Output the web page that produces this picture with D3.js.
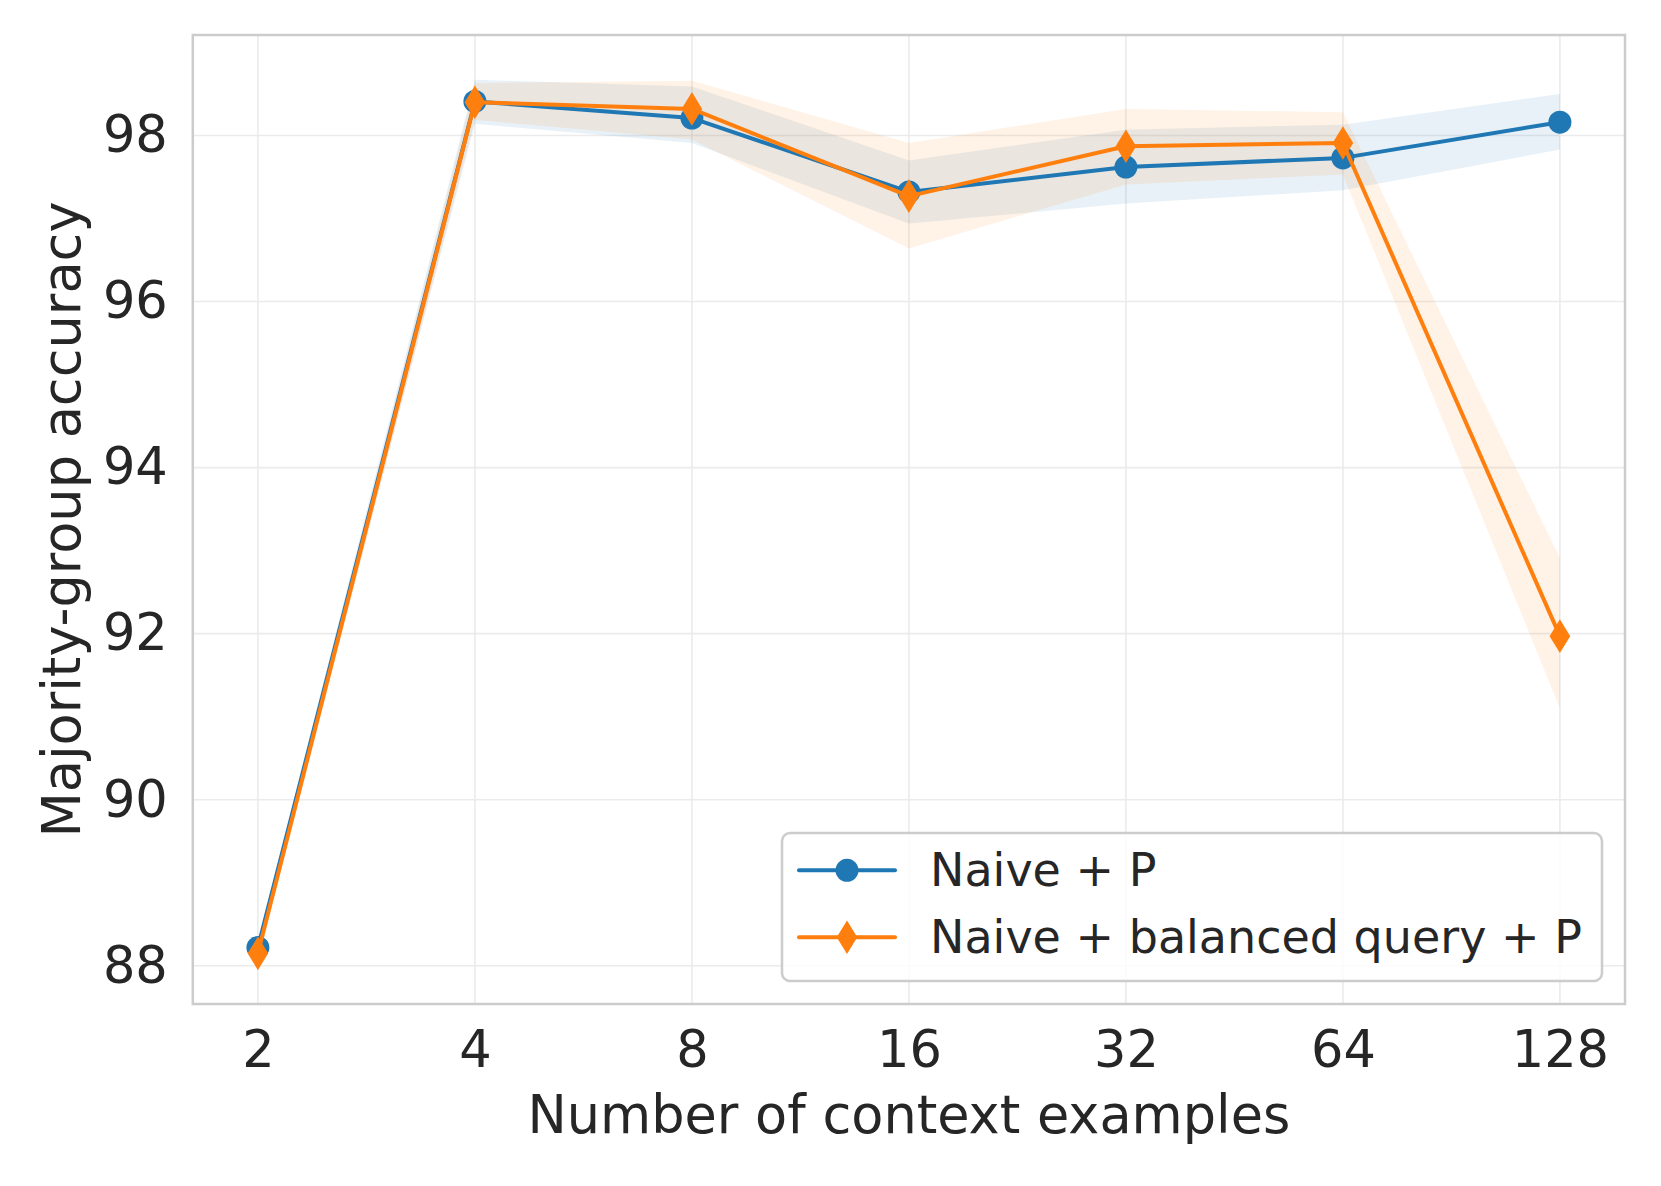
<!DOCTYPE html>
<html><head><meta charset="utf-8">
<script src="https://cdn.jsdelivr.net/npm/d3@7"></script>
<style>body{margin:0;background:#fff;} svg{display:block;}</style>
</head><body>
<svg id="chart" width="1661" height="1186"></svg>
<script>
const xValues = [2, 4, 8, 16, 32, 64, 128];
const xTickLabels = ["2", "4", "8", "16", "32", "64", "128"];
const yTicks = [88, 90, 92, 94, 96, 98];
const seriesNames = ["Naive + P", "Naive + balanced query + P"];
const naiveMean = [88.22, 98.41, 98.21, 97.32, 97.62, 97.73, 98.16];
const naiveLow  = [88.16, 98.14, 97.91, 96.94, 97.18, 97.34, 97.83];
const naiveHigh = [88.28, 98.67, 98.59, 97.70, 98.07, 98.13, 98.50];
const balMean = [88.15, 98.40, 98.32, 97.27, 97.87, 97.91, 91.97];
const balLow  = [88.09, 98.19, 97.95, 96.64, 97.41, 97.53, 91.10];
const balHigh = [88.21, 98.63, 98.66, 97.91, 98.32, 98.28, 92.91];
const colors = ["#1f77b4", "#ff7f0e"];

const svg = d3.select("#chart");
const L = 192.8, R = 1625, T = 35, B = 1004;
const x = d3.scaleLog().base(2).domain([Math.pow(2, 0.7), Math.pow(2, 7.3)]).range([L, R]);
const y = d3.scaleLinear().domain([87.54, 99.21]).range([B, T]);
const textColor = "#262626";
const font = "DejaVu Sans, sans-serif";
const lw = 4;

// grid
const g = svg.append("g");
g.selectAll("line.vx").data(xValues).enter().append("line")
  .attr("x1", d => x(d)).attr("x2", d => x(d)).attr("y1", T).attr("y2", B)
  .attr("stroke", "#ebebeb").attr("stroke-width", 1.6);
g.selectAll("line.hy").data(yTicks).enter().append("line")
  .attr("y1", d => y(d)).attr("y2", d => y(d)).attr("x1", L).attr("x2", R)
  .attr("stroke", "#ebebeb").attr("stroke-width", 1.6);

// axes (tick labels only)
const xAxis = d3.axisBottom(x).tickValues(xValues).tickFormat((d, i) => xTickLabels[i]).tickSize(0).tickPadding(27);
const xa = svg.append("g").attr("transform", `translate(0,${B})`).call(xAxis);
xa.select(".domain").remove();
xa.selectAll("text").attr("font-family", font).attr("font-size", 51).attr("fill", textColor);

const yAxis = d3.axisLeft(y).tickValues(yTicks).tickFormat(d3.format("d")).tickSize(0).tickPadding(25);
const ya = svg.append("g").attr("transform", `translate(${L},0)`).call(yAxis);
ya.select(".domain").remove();
ya.selectAll("text").attr("font-family", font).attr("font-size", 51).attr("fill", textColor);

// bands
const area = (lo, hi) => d3.area().x((d, i) => x(xValues[i])).y0((d, i) => y(lo[i])).y1((d, i) => y(hi[i]));
svg.append("path").attr("d", area(naiveLow, naiveHigh)(xValues))
  .attr("fill", colors[0]).attr("fill-opacity", 0.1);
svg.append("path").attr("d", area(balLow, balHigh)(xValues))
  .attr("fill", colors[1]).attr("fill-opacity", 0.1);

// lines and markers
const line = d3.line().x((d, i) => x(xValues[i])).y(d => y(d));
const diamond = (cx, cy) => {
  const h = 16.8, w = 10.3;
  return `M${cx},${cy - h}L${cx + w},${cy}L${cx},${cy + h}L${cx - w},${cy}Z`;
};
svg.append("path").attr("d", line(naiveMean)).attr("fill", "none")
  .attr("stroke", colors[0]).attr("stroke-width", lw).attr("stroke-linejoin", "round");
svg.selectAll("circle.m").data(naiveMean).enter().append("circle")
  .attr("cx", (d, i) => x(xValues[i])).attr("cy", d => y(d)).attr("r", 11.5).attr("fill", colors[0]);
svg.append("path").attr("d", line(balMean)).attr("fill", "none")
  .attr("stroke", colors[1]).attr("stroke-width", lw).attr("stroke-linejoin", "round");
svg.selectAll("path.dm").data(balMean).enter().append("path")
  .attr("d", (d, i) => diamond(x(xValues[i]), y(d))).attr("fill", colors[1]);

// frame
svg.append("rect").attr("x", L).attr("y", T).attr("width", R - L).attr("height", B - T)
  .attr("fill", "none").attr("stroke", "#cccccc").attr("stroke-width", 2.5);

// axis titles
svg.append("text").attr("x", (L + R) / 2).attr("y", 1133).attr("text-anchor", "middle")
  .attr("font-family", font).attr("font-size", 52.5).attr("fill", textColor).text("Number of context examples");
svg.append("text").attr("transform", `translate(80,${(T + B) / 2}) rotate(-90)`).attr("text-anchor", "middle")
  .attr("font-family", font).attr("font-size", 52.5).attr("fill", textColor).text("Majority-group accuracy");

// legend
const lg = svg.append("g");
lg.append("rect").attr("x", 782).attr("y", 833).attr("width", 820).attr("height", 148).attr("rx", 8)
  .attr("fill", "#fff").attr("fill-opacity", 0.8).attr("stroke", "#cccccc").attr("stroke-width", 2.5);
const rows = [870.3, 937.3];
seriesNames.forEach((name, i) => {
  const ry = rows[i];
  lg.append("line").attr("x1", 799).attr("x2", 895).attr("y1", ry).attr("y2", ry)
    .attr("stroke", colors[i]).attr("stroke-width", lw).attr("stroke-linecap", "round");
  if (i === 0) lg.append("circle").attr("cx", 847).attr("cy", ry).attr("r", 11.5).attr("fill", colors[i]);
  else lg.append("path").attr("d", diamond(847, ry)).attr("fill", colors[i]);
  lg.append("text").attr("x", 930).attr("y", ry).attr("dy", "0.35em")
    .attr("font-family", font).attr("font-size", 46).attr("fill", textColor).text(name);
});
</script>
</body></html>
